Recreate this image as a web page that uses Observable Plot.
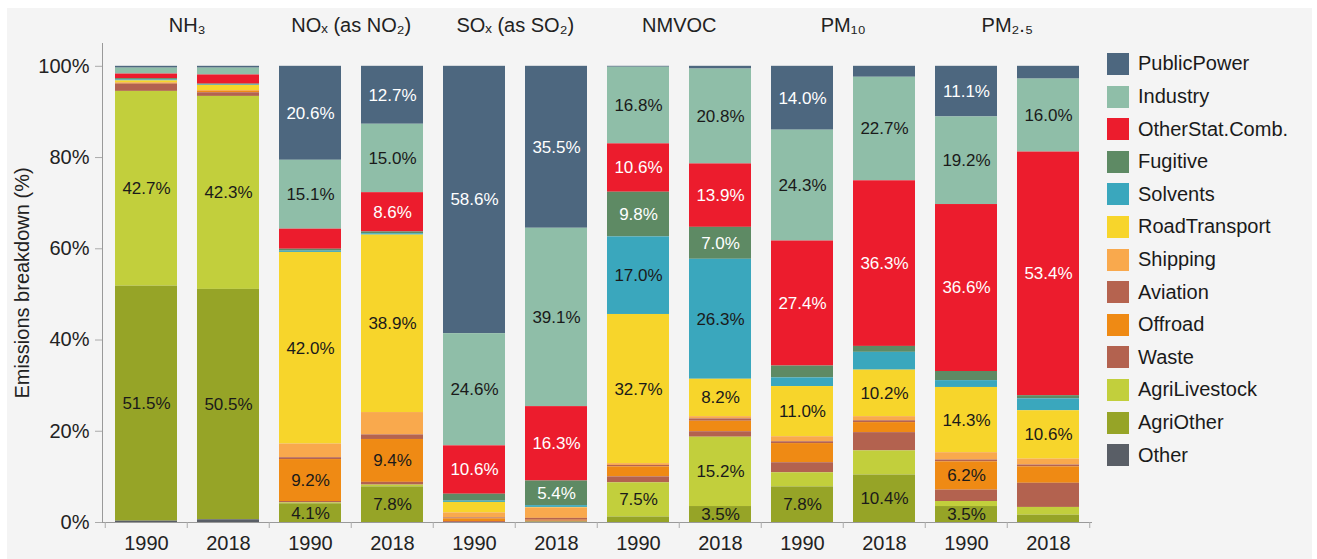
<!DOCTYPE html>
<html><head><meta charset="utf-8">
<script src="https://cdn.jsdelivr.net/npm/d3@7"></script>
<script src="https://cdn.jsdelivr.net/npm/@observablehq/plot@0.6"></script>
<style>
html,body{margin:0;padding:0;background:#fff;}
#panel{position:absolute;left:7px;top:8px;width:1305px;height:551px;background:#f4f4f4;}
#chart{position:absolute;left:0;top:0;}
#legend{position:absolute;left:1107px;top:47.7px;font-family:"Liberation Sans",Arial,sans-serif;font-size:20px;color:#1a1a1a;}
.item{display:flex;align-items:center;height:32.6px;white-space:nowrap;}
.sw{width:22px;height:22px;margin-right:9px;flex:none;}
</style></head><body>
<div id="panel"></div><div id="chart"></div><div id="legend"></div>
<script>
// Sectors in legend order (top of stack first)
const sectors = ["PublicPower","Industry","OtherStat.Comb.","Fugitive","Solvents","RoadTransport","Shipping","Aviation","Offroad","Waste","AgriLivestock","AgriOther","Other"];
const sectorColors = ["#4d677f","#8fbea8","#ec1c2d","#5e8a64","#3aa7bd","#f7d52b","#f9a94d","#b5634f","#ef8a14","#b3624f","#c2cf3c","#96a427","#595e66"];
const lightTextSectors = ["PublicPower","OtherStat.Comb.","Fugitive"];

const pollutants = ["NH3","NOx","SOx","NMVOC","PM10","PM2.5"];
const pollutantTitles = ["NH₃","NOₓ (as NO₂)","SOₓ (as SO₂)","NMVOC","PM₁₀","PM₂.₅"];
const years = ["1990","2018"];

// Percent shares, in sector order above
const NH3_1990   = [0.4, 1.3, 1.0, 0.3, 0.2, 0.4, 0.1, 0.0, 0.2, 1.6, 42.7, 51.5, 0.3];
const NH3_2018   = [0.4, 1.5, 2.0, 0.2, 0.1, 1.1, 0.2, 0.0, 0.3, 0.8, 42.3, 50.5, 0.6];
const NOx_1990   = [20.6, 15.1, 4.4, 0.4, 0.3, 42.0, 3.0, 0.4, 9.2, 0.3, 0.2, 4.1, 0.0];
const NOx_2018   = [12.7, 15.0, 8.6, 0.4, 0.3, 38.9, 4.9, 1.0, 9.4, 0.6, 0.4, 7.8, 0.0];
const SOx_1990   = [58.6, 24.6, 10.6, 1.5, 0.3, 2.3, 1.1, 0.2, 0.6, 0.2, 0.0, 0.0, 0.0];
const SOx_2018   = [35.5, 39.1, 16.3, 5.4, 0.4, 0.1, 2.3, 0.4, 0.2, 0.2, 0.0, 0.1, 0.0];
const NMVOC_1990 = [0.2, 16.8, 10.6, 9.8, 17.0, 32.7, 0.4, 0.3, 2.2, 1.3, 7.5, 1.2, 0.0];
const NMVOC_2018 = [0.6, 20.8, 13.9, 7.0, 26.3, 8.2, 0.5, 0.5, 2.3, 1.2, 15.2, 3.5, 0.0];
const PM10_1990  = [14.0, 24.3, 27.4, 2.6, 1.9, 11.0, 1.1, 0.4, 4.2, 2.2, 3.1, 7.8, 0.0];
const PM10_2018  = [2.4, 22.7, 36.3, 1.3, 3.9, 10.2, 0.9, 0.4, 2.2, 4.0, 5.3, 10.4, 0.0];
const PM25_1990  = [11.1, 19.2, 36.6, 2.0, 1.5, 14.3, 1.6, 0.4, 6.2, 2.5, 1.1, 3.5, 0.0];
const PM25_2018  = [2.8, 16.0, 53.4, 0.7, 2.6, 10.6, 1.3, 0.4, 3.6, 5.3, 1.7, 1.6, 0.0];

// Which segments carry a value label
const labelled = [
  "NH3|1990|AgriLivestock","NH3|1990|AgriOther","NH3|2018|AgriLivestock","NH3|2018|AgriOther",
  "NOx|1990|PublicPower","NOx|1990|Industry","NOx|1990|RoadTransport","NOx|1990|Offroad","NOx|1990|AgriOther",
  "NOx|2018|PublicPower","NOx|2018|Industry","NOx|2018|OtherStat.Comb.","NOx|2018|RoadTransport","NOx|2018|Offroad","NOx|2018|AgriOther",
  "SOx|1990|PublicPower","SOx|1990|Industry","SOx|1990|OtherStat.Comb.",
  "SOx|2018|PublicPower","SOx|2018|Industry","SOx|2018|OtherStat.Comb.","SOx|2018|Fugitive",
  "NMVOC|1990|Industry","NMVOC|1990|OtherStat.Comb.","NMVOC|1990|Fugitive","NMVOC|1990|Solvents","NMVOC|1990|RoadTransport","NMVOC|1990|AgriLivestock",
  "NMVOC|2018|Industry","NMVOC|2018|OtherStat.Comb.","NMVOC|2018|Fugitive","NMVOC|2018|Solvents","NMVOC|2018|RoadTransport","NMVOC|2018|AgriLivestock","NMVOC|2018|AgriOther",
  "PM10|1990|PublicPower","PM10|1990|Industry","PM10|1990|OtherStat.Comb.","PM10|1990|RoadTransport","PM10|1990|AgriOther",
  "PM10|2018|Industry","PM10|2018|OtherStat.Comb.","PM10|2018|RoadTransport","PM10|2018|AgriOther",
  "PM2.5|1990|PublicPower","PM2.5|1990|Industry","PM2.5|1990|OtherStat.Comb.","PM2.5|1990|RoadTransport","PM2.5|1990|Offroad","PM2.5|1990|AgriOther",
  "PM2.5|2018|Industry","PM2.5|2018|OtherStat.Comb.","PM2.5|2018|RoadTransport"
];

const series = {
  "NH3|1990": NH3_1990, "NH3|2018": NH3_2018,
  "NOx|1990": NOx_1990, "NOx|2018": NOx_2018,
  "SOx|1990": SOx_1990, "SOx|2018": SOx_2018,
  "NMVOC|1990": NMVOC_1990, "NMVOC|2018": NMVOC_2018,
  "PM10|1990": PM10_1990, "PM10|2018": PM10_2018,
  "PM2.5|1990": PM25_1990, "PM2.5|2018": PM25_2018
};

const keys = [];
pollutants.forEach(p => years.forEach(y => keys.push(p + "|" + y)));
const data = [];
keys.forEach(k => series[k].forEach((v, i) => data.push({key: k, sector: sectors[i], value: v, id: k + "|" + sectors[i]})));
const labelSet = new Set(labelled);
const stackOrder = sectors.slice().reverse(); // bottom first
const titles = pollutants.map((p, i) => ({key: p + "|2018", name: pollutantTitles[i]}));

const W = 1317, H = 559, ML = 102, MR = 225, MT = 43, MB = 37;
const step = (W - ML - MR) / keys.length;
const font = '"Liberation Sans", Arial, sans-serif';
const lab = d => d.value.toFixed(1) + "%";

const chart = Plot.plot({
  width: W, height: H,
  marginLeft: ML, marginRight: MR, marginTop: MT, marginBottom: MB,
  style: {fontFamily: font, fontSize: "20px", background: "transparent", color: "#222"},
  x: {domain: keys, paddingInner: 0.25, paddingOuter: 0.125},
  y: {domain: [0, 105]},
  color: {domain: sectors, range: sectorColors},
  marks: [
    Plot.barY(data, Plot.stackY({x: "key", y: "value", fill: "sector", z: "sector", order: stackOrder})),
    Plot.text(data, Plot.stackY({x: "key", y: "value", z: "sector", order: stackOrder,
      text: d => (labelSet.has(d.id) && !lightTextSectors.includes(d.sector)) ? lab(d) : "",
      fill: "#1a1a1a", fontSize: 17})),
    Plot.text(data, Plot.stackY({x: "key", y: "value", z: "sector", order: stackOrder,
      text: d => (labelSet.has(d.id) && lightTextSectors.includes(d.sector)) ? lab(d) : "",
      fill: "#ffffff", fontSize: 17})),
    Plot.ruleY([0], {stroke: "#999"}),
    Plot.frame({anchor: "left", stroke: "#999"}),
    Plot.axisY({ticks: [0, 20, 40, 60, 80, 100], tickSize: 7, stroke: "#aaa", fill: "none", label: null}),
    Plot.axisY({ticks: [0, 20, 40, 60, 80, 100], tickSize: 0, tickPadding: 13, tickFormat: d => d + "%",
      fill: "#222", label: "Emissions breakdown (%)", labelAnchor: "center", labelOffset: 88, labelArrow: "none"}),
    Plot.axisX({tickSize: 0, tickPadding: 13, tickFormat: k => k.split("|")[1], fill: "#222", label: null}),
    Plot.axisX({tickSize: 6, stroke: "#aaa", fill: "none", dx: -step / 2, label: null}),
    Plot.axisX({ticks: [keys[keys.length - 1]], tickSize: 6, stroke: "#aaa", fill: "none", dx: step / 2, label: null}),
    Plot.text(titles, {x: "key", dx: -step / 2, frameAnchor: "top", dy: -18, lineAnchor: "middle",
      text: "name", fontSize: 20, fill: "#222"})
  ]
});
document.getElementById("chart").appendChild(chart);

const legend = document.getElementById("legend");
sectors.forEach((s, i) => {
  const row = document.createElement("div");
  row.className = "item";
  const sw = document.createElement("div");
  sw.className = "sw";
  sw.style.background = sectorColors[i];
  const t = document.createElement("span");
  t.textContent = s;
  row.appendChild(sw); row.appendChild(t);
  legend.appendChild(row);
});
</script>
</body></html>
